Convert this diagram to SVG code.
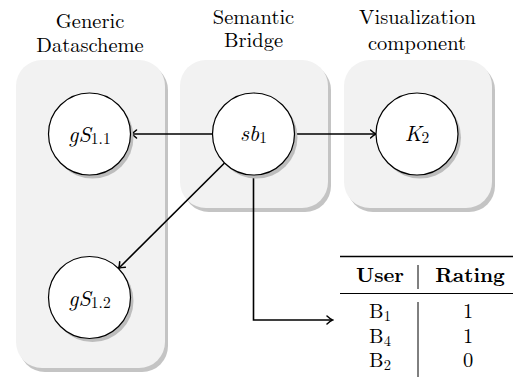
<svg xmlns="http://www.w3.org/2000/svg" width="513" height="381" viewBox="0 0 513 381">
<defs>
<style>
.panel{fill:#f2f2f2}
.pshadow{fill:#c4c4c4}
.node{fill:#fff;stroke:#000;stroke-width:1.2}
.nshadow{fill:#bdbdbd}
text{font-family:'Latin Modern Roman','Times New Roman','Liberation Serif',serif;fill:#000}
.title{font-size:20.5px;text-anchor:middle}
.math{font-size:22px;font-style:italic;text-anchor:middle}
.sub{font-style:normal;font-size:15.5px}
.conn{fill:none;stroke:#000;stroke-width:1.6}
.tab{font-size:20.5px;text-anchor:middle}
.bold{font-weight:bold}
.rule{stroke:#000}
</style>
<marker id="arr" viewBox="-6 -5 8 10" refX="0" refY="0" markerWidth="8" markerHeight="10" markerUnits="userSpaceOnUse" orient="auto">
<path d="M -5 -4 Q -1.5 -0.8 0.5 0 Q -1.5 0.8 -5 4" fill="none" stroke="#000" stroke-width="1.5" stroke-linecap="round"/>
</marker>
</defs>
<rect width="513" height="381" fill="#fff"/>
<g id="panel-generic">
<rect class="pshadow" x="19" y="64" width="149" height="308" rx="26"/>
<rect class="panel" x="16" y="60" width="149" height="308" rx="26"/>
<text class="title" x="90" y="28">Generic</text>
<text class="title" x="90" y="52">Datascheme</text>
</g>
<g id="panel-bridge">
<rect class="pshadow" x="183" y="64" width="148" height="148" rx="26"/>
<rect class="panel" x="180" y="60" width="148" height="148" rx="26"/>
<text class="title" x="253.5" y="23.5">Semantic</text>
<text class="title" x="253.5" y="47">Bridge</text>
</g>
<g id="panel-vis">
<rect class="pshadow" x="347" y="64" width="148" height="148" rx="26"/>
<rect class="panel" x="344" y="60" width="148" height="148" rx="26"/>
<text class="title" x="417.5" y="23.5">Visualization</text>
<text class="title" x="417" y="50">component</text>
</g>
<g id="connectors">
<line class="conn" x1="212.5" y1="134" x2="131.5" y2="134" marker-end="url(#arr)"/>
<line class="conn" x1="294.5" y1="134" x2="375.5" y2="134" marker-end="url(#arr)"/>
<line class="conn" x1="224.5" y1="163" x2="119" y2="268" marker-end="url(#arr)"/>
<polyline class="conn" points="253.5,175 253.5,320 332,320" marker-end="url(#arr)"/>
</g>
<g id="node-gS11">
<circle class="nshadow" cx="92.5" cy="137.5" r="41"/>
<circle class="node" cx="89.5" cy="134" r="41"/>
<text class="math" x="89.5" y="142">gS<tspan class="sub" dy="2">1.1</tspan></text>
</g>
<g id="node-gS12">
<circle class="nshadow" cx="92.5" cy="301" r="41"/>
<circle class="node" cx="89.5" cy="297.5" r="41"/>
<text class="math" x="89.5" y="305.5">gS<tspan class="sub" dy="2">1.2</tspan></text>
</g>
<g id="node-sb1">
<circle class="nshadow" cx="256.5" cy="137.5" r="41"/>
<circle class="node" cx="253.5" cy="134" r="41"/>
<text class="math" x="253.5" y="141">sb<tspan class="sub" dy="2">1</tspan></text>
</g>
<g id="node-K2">
<circle class="nshadow" cx="420" cy="137.5" r="41"/>
<circle class="node" cx="417" cy="134" r="41"/>
<text class="math" x="417" y="141">K<tspan class="sub" dy="2">2</tspan></text>
</g>
<g id="table">
<line class="rule" x1="340" y1="256.5" x2="513" y2="256.5" stroke-width="1.6"/>
<line class="rule" x1="340" y1="293.5" x2="513" y2="293.5" stroke-width="1"/>
<line class="rule" x1="418" y1="265" x2="418" y2="289" stroke-width="1"/>
<line class="rule" x1="418" y1="302" x2="418" y2="377" stroke-width="1"/>
<text class="tab bold" x="380" y="282">User</text>
<text class="tab bold" x="470" y="282">Rating</text>
<text class="tab" x="380" y="318">B<tspan font-size="14.5" dy="3">1</tspan></text>
<text class="tab" x="380" y="343">B<tspan font-size="14.5" dy="3">4</tspan></text>
<text class="tab" x="380" y="367">B<tspan font-size="14.5" dy="3">2</tspan></text>
<text class="tab" x="468" y="318">1</text>
<text class="tab" x="468" y="343">1</text>
<text class="tab" x="468" y="367">0</text>
</g>
</svg>
